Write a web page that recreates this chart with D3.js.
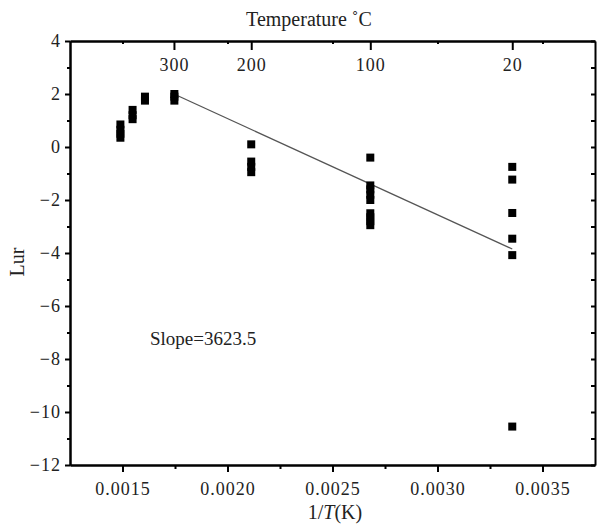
<!DOCTYPE html>
<html>
<head>
<meta charset="utf-8">
<script src="https://cdn.jsdelivr.net/npm/d3@7"></script>
<style>
  body { margin: 0; background: #fff; }
  svg { display: block; }
  svg text { font-family: "Times New Roman", "Liberation Serif", "DejaVu Serif", serif !important; }
</style>
</head>
<body>
<div class="container"></div>
<script>
const w = 597
const h = 525
const padL = 70, padR = 595, padT = 41, padB = 465
const serif = '"Times New Roman", "Liberation Serif", "DejaVu Serif", serif'

// 1/T (K) of each measurement
const invT = [
    0.00149, 0.00149, 0.00149, 0.00149,
    0.001548, 0.001548, 0.001548,
    0.001607, 0.001607,
    0.001747, 0.001747, 0.001747,
    0.002113, 0.002113, 0.002113, 0.002113,
    0.00268, 0.00268, 0.00268, 0.00268, 0.00268, 0.00268, 0.00268, 0.00268, 0.00268,
    0.003356, 0.003356, 0.003356, 0.003356, 0.003356, 0.003356
]
// Lur of each measurement
const lur = [
    0.35, 0.5, 0.65, 0.85,
    1.05, 1.2, 1.4,
    1.75, 1.9,
    1.75, 1.9, 2.0,
    0.1, -0.55, -0.75, -0.95,
    -0.4, -1.45, -1.6, -1.8, -2.0, -2.5, -2.65, -2.8, -2.95,
    -0.75, -1.23, -2.49, -3.46, -4.08, -10.55
]
// fitted line end points
const fitX = [0.001745, 0.003356]
const fitY = [2.0, -3.85]

// top temperature axis
const tempLabels = ['300', '200', '100', '20']
const tempPos = [0.001745, 0.002113, 0.00268, 0.003356]

const xTicks = [0.0015, 0.0020, 0.0025, 0.0030, 0.0035]
const xMinor = [0.00175, 0.00225, 0.00275, 0.00325]
const yTicks = [4, 2, 0, -2, -4, -6, -8, -10, -12]
const yMinor = [3, 1, -1, -3, -5, -7, -9, -11]

const svg = d3.select('.container')
    .append('svg')
    .attr('width', w)
    .attr('height', h)
    .attr('font-family', serif)

const xScale = d3.scaleLinear().domain([0.00125, 0.00375]).range([padL, padR])
const yScale = d3.scaleLinear().domain([-12, 4]).range([padB, padT])

const styleAxis = g => {
    g.attr('font-family', serif)
    g.select('.domain').attr('stroke', '#000').attr('stroke-width', 2)
    g.selectAll('.tick line').attr('stroke', '#000').attr('stroke-width', 2)
    g.selectAll('.tick text').attr('fill', '#222').attr('font-size', 18).style('letter-spacing', '1px')
}

// bottom axis
svg.append('g')
    .attr('transform', 'translate(0,' + padB + ')')
    .call(d3.axisBottom(xScale).tickValues(xTicks).tickFormat(d3.format('.4f')).tickSize(7).tickSizeOuter(0).tickPadding(10))
    .call(styleAxis)
svg.append('g')
    .attr('transform', 'translate(0,' + padB + ')')
    .call(d3.axisBottom(xScale).tickValues(xMinor).tickFormat('').tickSize(4).tickSizeOuter(0))
    .call(styleAxis)

// left axis
svg.append('g')
    .attr('transform', 'translate(' + padL + ',0)')
    .call(d3.axisLeft(yScale).tickValues(yTicks).tickFormat(d3.format('d')).tickSize(5).tickSizeOuter(0).tickPadding(4))
    .call(styleAxis)
svg.append('g')
    .attr('transform', 'translate(' + padL + ',0)')
    .call(d3.axisLeft(yScale).tickValues(yMinor).tickFormat('').tickSize(3).tickSizeOuter(0))
    .call(styleAxis)

// right axis (inward ticks)
svg.append('g')
    .attr('transform', 'translate(' + padR + ',0)')
    .call(d3.axisRight(yScale).tickValues(yTicks.concat(yMinor)).tickFormat('').tickSize(-4).tickSizeOuter(0))
    .call(styleAxis)

// top axis with temperature labels
svg.append('g')
    .attr('transform', 'translate(0,' + padT + ')')
    .call(d3.axisBottom(xScale).tickValues(tempPos).tickFormat((d, i) => tempLabels[i]).tickSize(9).tickSizeOuter(0).tickPadding(8))
    .call(styleAxis)
svg.append('g')
    .attr('transform', 'translate(0,' + padT + ')')
    .call(d3.axisTop(xScale).tickValues(xTicks).tickFormat('').tickSize(-3).tickSizeOuter(0))
    .call(styleAxis)

// fitted line
svg.append('path')
    .datum(fitX.map((x, i) => [x, fitY[i]]))
    .attr('fill', 'none')
    .attr('stroke', '#555')
    .attr('stroke-width', 1.3)
    .attr('d', d3.line().x(d => xScale(d[0])).y(d => yScale(d[1])))

// points
const s = 8
svg.selectAll('rect.pt')
    .data(invT.map((x, i) => [x, lur[i]]))
    .enter()
    .append('rect')
    .attr('class', 'pt')
    .attr('x', d => xScale(d[0]) - s / 2)
    .attr('y', d => yScale(d[1]) - s / 2)
    .attr('width', s)
    .attr('height', s)
    .attr('fill', '#000')

// titles
svg.append('text')
    .text('Temperature \u02DAC')
    .attr('x', 309)
    .attr('y', 26)
    .attr('text-anchor', 'middle')
    .attr('font-size', 20)
    .attr('fill', '#222')

svg.append('text')
    .text('Lur')
    .attr('transform', 'translate(24,262) rotate(-90)')
    .attr('text-anchor', 'middle')
    .attr('font-size', 20)
    .attr('fill', '#222')

const xl = svg.append('text')
    .attr('x', 335)
    .attr('y', 519)
    .attr('text-anchor', 'middle')
    .attr('font-size', 20)
    .attr('fill', '#222')
xl.append('tspan').text('1/')
xl.append('tspan').text('T').attr('font-style', 'italic')
xl.append('tspan').text('(K)')

svg.append('text')
    .text('Slope=3623.5')
    .attr('x', 150)
    .attr('y', 345)
    .attr('font-size', 19)
    .attr('fill', '#222')
</script>
</body>
</html>
